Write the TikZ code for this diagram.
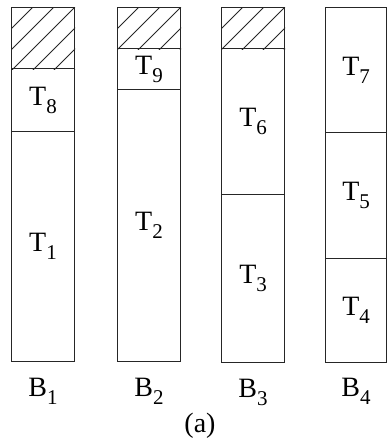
\documentclass[tikz,border=0pt]{standalone}
\usepackage{fontspec}
\setmainfont{Liberation Serif}
\usetikzlibrary{positioning}
\tikzset{
  seg/.style={rectangle,draw=black!85,line width=1.1pt,inner sep=0pt,minimum width=63pt,anchor=north west,font=\fontsize{28}{30}\selectfont},
  hatch/.style={line width=.9pt,black!85},
  lab/.style={font=\fontsize{28}{30}\selectfont,inner sep=0pt},
}
\newcommand{\tk}[2]{#1\raisebox{-.62ex}{\fontsize{21}{22}\selectfont #2}}

\begin{document}
\begin{tikzpicture}[x=1pt,y=-1pt]
  \useasboundingbox (0,0) rectangle (386,442);
  % B1
  \node[seg,minimum height=61pt]  (h1) at (11,7) {};
  \node[seg,minimum height=63pt]  (t8) at (11,68) {\tk{T}{8}};
  \node[seg,minimum height=230pt] (t1) at (11,131) {\tk{T}{1}};
  % B2
  \node[seg,minimum height=41pt]  (h2) at (117,7) {};
  \node[seg,minimum height=41pt]  (t9) at (117,48) {\tk{T}{9}};
  \node[seg,minimum height=272pt] (t2) at (117,89) {\tk{T}{2}};
  % B3
  \node[seg,minimum height=41pt]  (h3) at (221,7) {};
  \node[seg,minimum height=146pt] (t6) at (221,48) {\tk{T}{6}};
  \node[seg,minimum height=168pt] (t3) at (221,194) {\tk{T}{3}};
  % B4
  \node[seg,minimum width=61pt,minimum height=125pt] (t7) at (325,7) {\tk{T}{7}};
  \node[seg,minimum width=61pt,minimum height=126pt] (t5) at (325,132) {\tk{T}{5}};
  \node[seg,minimum width=61pt,minimum height=104pt] (t4) at (325,258) {\tk{T}{4}};
  % hatched tops
  \foreach \h in {h1,h2,h3}{
    \begin{scope}
      \clip (\h.south west) rectangle (\h.north east);
      \foreach \k in {-3,...,4}
        \draw[hatch] (\h.north east) ++(21*\k,0) -- ++(-130,130);
    \end{scope}
  }
  % block names
  \node[lab,below=16pt of t1] (b1) {\tk{B}{1}};
  \node[lab,below=16pt of t2] (b2) {\tk{B}{2}};
  \node[lab,below=16pt of t3] (b3) {\tk{B}{3}};
  \node[lab,below=15pt of t4] (b4) {\tk{B}{4}};
  \node[lab] (cap) at (200,426) {(a)};
\end{tikzpicture}
\end{document}
